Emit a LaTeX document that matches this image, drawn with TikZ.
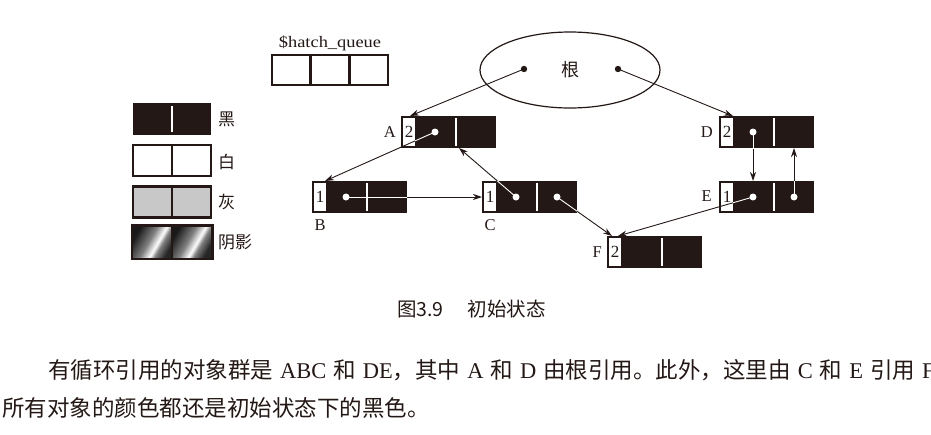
\documentclass[tikz,border=0pt]{standalone}
\usepackage{fontspec}
\setmainfont{Liberation Serif}
\newfontfamily\cjk{Noto Sans CJK SC}
\newfontfamily\qfont[FakeStretch=1.15]{Liberation Serif}
\usetikzlibrary{arrows.meta,shapes.geometric,calc}
\definecolor{ink}{HTML}{231815}
\definecolor{leggray}{HTML}{C8C8C8}
\pgfdeclarehorizontalshading{shadowfill}{100bp}{color(0bp)=(black!90); color(25bp)=(black!90); color(45bp)=(black!50); color(57bp)=(white); color(63bp)=(black!50); color(75bp)=(black!85); color(100bp)=(black!85)}
\tikzset{
  objbody/.style={fill=ink, minimum width=95pt, minimum height=32pt, inner sep=0pt, outer sep=0pt},
  cntcell/.style={fill=white, text=ink, minimum width=12pt, minimum height=28pt, inner sep=0pt, font=\fontsize{17}{17}\selectfont},
  objlabel/.style={text=ink, inner sep=0pt, font=\fontsize{16.5}{16.5}\selectfont},
  legbox/.style={draw=ink, line width=2.5pt, minimum width=78pt, minimum height=31pt, inner sep=0pt},
  leglabel/.style={text=ink, anchor=west, inner sep=0pt, font=\cjk\fontsize{17}{17}\selectfont},
  qcell/.style={draw=ink, line width=2.5pt, minimum width=38.7pt, minimum height=30pt, inner sep=0pt},
  refarrow/.style={draw=ink, line width=0.9pt, -{Stealth[length=9pt,width=6pt]}},
  dotw/.style={fill=white},
  dotb/.style={fill=ink},
}
\newcommand\gcobj[4]{%
  \node[objbody, anchor=north west] (#1) at (#2,#3) {};
  \node[cntcell, anchor=north west] (#1n) at ($(#1.north west)+(2,2)$) {#4};
  \draw[white, line width=2pt] ($(#1.north west)+(55,2)$) -- ($(#1.south west)+(55,-2)$);
  \coordinate (#1p) at ($(#1.west)+(34,0)$);
  \coordinate (#1q) at ($(#1.west)+(75,0)$);
}
\newcommand\whiteseg[3]{%
  \begin{scope}
    \clip ($(#1.north west)+(14,0)$) rectangle (#1.south east);
    \draw[white, line width=0.9pt] (#2) -- (#3);
  \end{scope}
}
\begin{document}
\begin{tikzpicture}[x=1pt,y=-1pt]
\useasboundingbox (0,0) rectangle (931,434);

% legend
\node[fill=ink, minimum width=78pt, minimum height=32pt, inner sep=0pt] (lblack) at (172,119) {};
\draw[white, line width=2pt] ($(lblack.north)+(0,3)$) -- ($(lblack.south)+(0,-3)$);
\node[leglabel] (tblack) at (218,119) {黑};

\node[legbox, fill=white] (lwhite) at (172,160.5) {};
\draw[ink, line width=2.5pt] (lwhite.north) -- (lwhite.south);
\node[leglabel] (twhite) at (218,162) {白};

\node[legbox, fill=leggray] (lgray) at (172,202) {};
\draw[ink, line width=2.5pt] (lgray.north) -- (lgray.south);
\node[leglabel] (tgray) at (218,202) {灰};

\node[legbox] (lshade) at (172,242) {};
\shade[shading=shadowfill, shading angle=-30] ($(lshade.north west)+(1.25,1.25)$) rectangle ($(lshade.south)+(0,-1.25)$);
\shade[shading=shadowfill, shading angle=-30] ($(lshade.north)+(0,1.25)$) rectangle ($(lshade.south east)+(-1.25,-1.25)$);
\draw[ink, line width=2.5pt] (lshade.north west) rectangle (lshade.south east);
\draw[ink, line width=2.5pt] (lshade.north) -- (lshade.south);
\node[leglabel] (tshade) at (218,242) {阴影};

% queue
\node[qcell] (q1) at (291.3,70) {};
\node[qcell] (q2) at (330,70) {};
\node[qcell] (q3) at (368.7,70) {};
\node[text=ink, inner sep=0pt, font=\qfont\fontsize{16}{16}\selectfont] (qlabel) at (330,43) {\$hatch\_queue};

% root
\node[draw=ink, line width=1.2pt, ellipse, minimum width=180pt, minimum height=76pt, inner sep=0pt, text=ink, font=\cjk\fontsize{18}{18}\selectfont] (root) at (570,70) {根};
\coordinate (rootL) at (524,69);
\coordinate (rootR) at (618,69);

% objects
\gcobj{A}{401}{116}{2}
\gcobj{B}{312}{181}{1}
\gcobj{C}{482}{181}{1}
\gcobj{D}{719}{116}{2}
\gcobj{E}{719}{181}{1}
\gcobj{F}{607}{236}{2}

\node[objlabel, anchor=east] (labA) at (396,132) {A};
\node[objlabel] (labB) at (320,225) {B};
\node[objlabel] (labC) at (490,225) {C};
\node[objlabel, anchor=east] (labD) at (713,132) {D};
\node[objlabel, anchor=east] (labE) at (712,196) {E};
\node[objlabel, anchor=east] (labF) at (602,252) {F};

% target points
\coordinate (tA) at ($(A.north west)+(9,0)$);
\coordinate (tD) at ($(D.north west)+(14,0)$);
\coordinate (tB) at ($(B.north west)+(13,0)$);
\coordinate (tAb) at ($(A.south west)+(58,0)$);
\coordinate (tF1) at ($(F.north west)+(5,0)$);
\coordinate (tF2) at ($(F.north west)+(11,0)$);

% references
\draw[refarrow] (rootL) -- (tA);
\draw[refarrow] (rootR) -- (tD);
\draw[refarrow] (Ap) -- (tB);
\draw[refarrow] (Bp) -- (C.west);
\draw[refarrow] (Cp) -- (tAb);
\draw[refarrow] (Cq) -- (tF1);
\draw[refarrow] (Ep) -- (tF2);
\draw[refarrow] (Dp) -- (Dp |- E.north);
\draw[refarrow] (Eq) -- (Eq |- D.south);

\whiteseg{A}{Ap}{tB}
\whiteseg{B}{Bp}{C.west}
\whiteseg{C}{Cp}{tAb}
\whiteseg{C}{Cq}{tF1}
\whiteseg{E}{Ep}{tF2}
\whiteseg{D}{Dp}{Dp |- E.north}
\whiteseg{E}{Eq}{Eq |- D.south}

\fill[dotb] (rootL) circle (3.2);
\fill[dotb] (rootR) circle (3.2);
\foreach \p in {Ap,Bp,Cp,Cq,Dp,Ep,Eq} \fill[dotw] (\p) circle (3.5);

% caption and body text
\node[anchor=base west, inner sep=0pt, text=ink, font=\cjk\fontsize{19.5}{19.5}\selectfont] (caption) at (397,316.5) {图3.9\hspace{24pt}初始状态};
\node[anchor=base west, inner sep=0pt, text=ink, font=\fontsize{22.5}{22.5}\selectfont] (body1) at (48,378.5) {\spaceskip=7pt {\cjk 有循环引用的对象群是} ABC {\cjk 和} DE{\cjk ，其中} A {\cjk 和} D {\cjk 由根引用。此外，这里由} C {\cjk 和} E {\cjk 引用} F};
\node[anchor=base west, inner sep=0pt, text=ink, font=\cjk\fontsize{22.5}{22.5}\selectfont] (body2) at (2,416) {所有对象的颜色都还是初始状态下的黑色。};
\end{tikzpicture}
\end{document}
